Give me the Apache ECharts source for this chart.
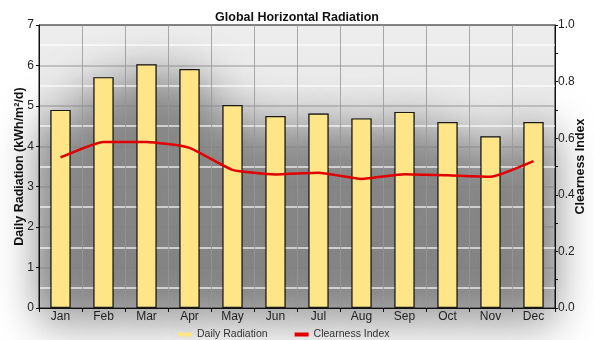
<!DOCTYPE html>
<html>
<head>
<meta charset="utf-8">
<script src="https://cdn.jsdelivr.net/npm/echarts@6/dist/echarts.min.js"></script>
<style>
  html, body { margin: 0; padding: 0; background: #fff; }
  #chart { width: 594px; height: 340px; }
</style>
</head>
<body>
<div id="chart"></div>
<script>
// Monthly solar resource
const months = ['Jan', 'Feb', 'Mar', 'Apr', 'May', 'Jun', 'Jul', 'Aug', 'Sep', 'Oct', 'Nov', 'Dec'];
const dailyRadiation = [4.90, 5.71, 6.03, 5.91, 5.02, 4.75, 4.81, 4.69, 4.85, 4.60, 4.25, 4.60];
const clearnessIndex = [0.532, 0.587, 0.587, 0.566, 0.488, 0.472, 0.478, 0.456, 0.473, 0.469, 0.464, 0.519];
const radiationTicks = [0, 1, 2, 3, 4, 5, 6, 7];
const clearnessTicks = ['0.0', '0.2', '0.4', '0.6', '0.8', '1.0'];

// Plot box
const PL = 39, PT = 25, PR = 39, PB = 32;
const CW = 594, CH = 340;
const FONT = '"Liberation Sans", Arial, sans-serif';

const chart = echarts.init(document.getElementById('chart'), null, { renderer: 'canvas' });

chart.setOption({
  animation: false,
  backgroundColor: '#fff',
  textStyle: { fontFamily: FONT },
  title: {
    text: 'Global Horizontal Radiation',
    left: 'center',
    top: 11,
    padding: 0,
    textStyle: { fontFamily: FONT, fontSize: 12.5, fontWeight: 'bold', color: '#111' }
  },
  graphic: [{
    type: 'rect',
    z: -10,
    silent: true,
    shape: { x: PL, y: PT, width: CW - PL - PR, height: CH - PT - PB },
    style: {
      fill: new echarts.graphic.LinearGradient(0, 0, 0, 1, [
        { offset: 0, color: '#ededed' },
        { offset: 1, color: '#e0e0e0' }
      ])
    }
  }],
  legend: {
    data: ['Daily Radiation', 'Clearness Index'],
    left: 178,
    top: 329,
    padding: 0,
    icon: 'rect',
    itemWidth: 14,
    itemHeight: 4,
    itemGap: 27,
    itemStyle: { borderWidth: 0 },
    textStyle: { fontFamily: FONT, fontSize: 10.5, color: '#333' }
  },
  grid: {
    left: PL, right: PR, top: PT, bottom: PB,
    containLabel: false,
    outerBoundsMode: 'none',
    show: true,
    backgroundColor: 'transparent',
    borderColor: '#111',
    borderWidth: 1
  },
  xAxis: {
    type: 'category',
    data: months,
    boundaryGap: true,
    axisLine: { lineStyle: { color: '#111', width: 1 } },
    axisTick: { show: true, length: 4, lineStyle: { color: '#111' } },
    axisLabel: { fontFamily: FONT, fontSize: 12, color: '#222', margin: 3 },
    splitLine: { show: true, lineStyle: { color: 'rgba(150,150,150,0.8)', width: 1 } }
  },
  yAxis: [{
    type: 'value',
    min: radiationTicks[0],
    max: radiationTicks[radiationTicks.length - 1],
    interval: 1,
    name: 'Daily Radiation (kWh/m²/d)',
    nameLocation: 'middle',
    nameGap: 13,
    nameMoveOverlap: false,
    nameTextStyle: { fontFamily: FONT, fontSize: 12.5, fontWeight: 'bold', color: '#111' },
    axisLine: { show: true, lineStyle: { color: '#111', width: 1 } },
    axisTick: { show: true, length: 3, lineStyle: { color: '#111' } },
    axisLabel: { fontFamily: FONT, fontSize: 12, color: '#222', margin: 5 },
    splitLine: { show: true, lineStyle: { color: 'rgba(130,130,130,0.5)', width: 1.5 } },
    minorTick: { show: false, splitNumber: 2 },
    minorSplitLine: { show: true, lineStyle: { color: 'rgba(255,255,255,0.8)', width: 1.5 } }
  }, {
    type: 'value',
    position: 'right',
    min: 0,
    max: 1,
    interval: 0.1,
    name: 'Clearness Index',
    nameLocation: 'middle',
    nameGap: 19,
    nameMoveOverlap: false,
    nameTextStyle: { fontFamily: FONT, fontSize: 12.5, fontWeight: 'bold', color: '#111' },
    axisLine: { show: true, lineStyle: { color: '#111', width: 1 } },
    axisTick: { show: true, length: 3, lineStyle: { color: '#111' } },
    axisLabel: {
      fontFamily: FONT, fontSize: 12, color: '#222', margin: 3,
      formatter: v => {
        const s = v.toFixed(1);
        return clearnessTicks.indexOf(s) >= 0 ? s : '';
      }
    },
    splitLine: { show: false }
  }],
  series: [{
    // soft drop shadow cast by the bars onto the plot background
    name: 'radiation shadow',
    type: 'bar',
    z: -1,
    silent: true,
    clip: false,
    data: dailyRadiation,
    barWidth: '47%',
    barGap: '-100%',
    itemStyle: {
      color: 'rgba(110,110,110,1)',
      shadowBlur: 48,
      shadowOffsetY: 12,
      shadowColor: 'rgba(0,0,0,1)'
    }
  }, {
    name: 'Daily Radiation',
    type: 'bar',
    z: 2,
    data: dailyRadiation,
    barWidth: '47%',
    barGap: '-100%',
    itemStyle: { color: '#fde588', borderColor: '#1a1a1a', borderWidth: 1.2 }
  }, {
    name: 'Clearness Index',
    type: 'line',
    yAxisIndex: 1,
    z: 3,
    data: clearnessIndex,
    symbol: 'none',
    smooth: 0.15,
    lineStyle: { color: '#e00000', width: 2.5 },
    itemStyle: { color: '#e00000' }
  }]
});
</script>
</body>
</html>
